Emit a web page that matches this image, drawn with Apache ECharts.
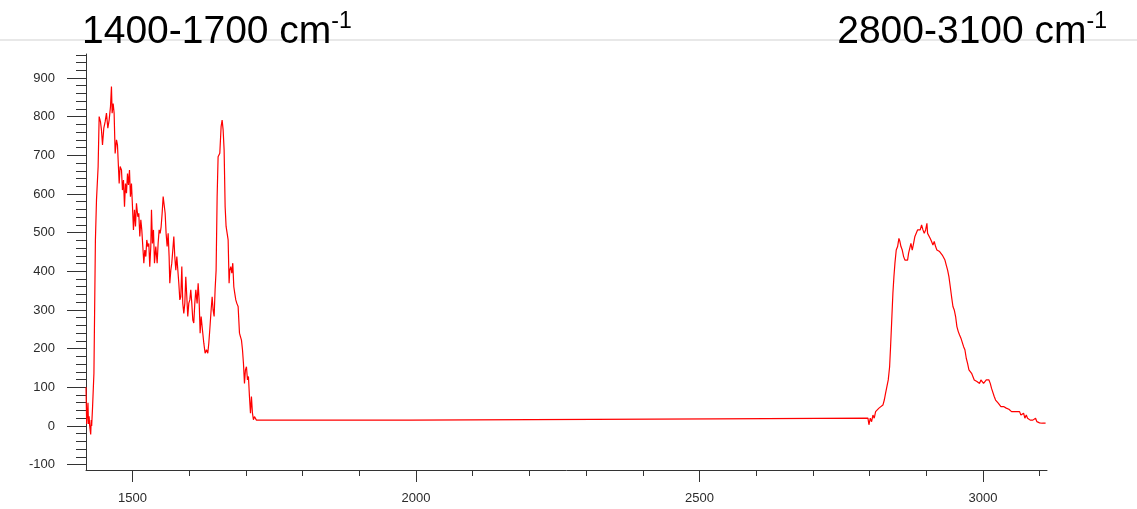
<!DOCTYPE html>
<html>
<head>
<meta charset="utf-8">
<script src="https://cdn.jsdelivr.net/npm/echarts@6.0.0/dist/echarts.min.js"></script>
<style>
html,body{margin:0;padding:0;background:#fff;}
#chart{width:1137px;height:509px;}
</style>
</head>
<body>
<div id="chart"></div>
<script>
// Wavenumbers (cm-1) and intensities
const wavenumbers = [
 1418.0,1419.2,1420.5,1421.5,1422.3,1423.5,1424.5,1426.3,1427.2,1428.0,1429.5,1431.5,1432.0,1434.0,1434.6,1436.5,1439.4,1441.2,1443.5,1445.3,1447.1,1449.4,1451.8,1454.1,1456.5,1458.8,1461.2,1462.9,1464.1,1465.9,1467.6,1469.4,1471.8,1473.5,1475.3,1476.5,1478.2,1480.6,1482.3,1484.1,1485.9,1487.6,1489.4,1491.2,1492.9,1494.7,1496.4,1498.2,1500.0,1501.7,1503.5,1505.3,1507.0,1509.4,1511.1,1512.9,1514.7,1516.4,1518.2,1520.0,1521.7,1523.5,1525.2,1527.0,1528.8,1530.5,1532.3,1533.5,1535.2,1537.0,1538.8,1541.1,1543.5,1545.2,1547.0,1548.8,1550.5,1552.3,1554.1,1555.8,1557.6,1559.3,1561.1,1562.9,1564.6,1565.8,1567.6,1569.3,1571.1,1572.9,1574.6,1576.4,1578.2,1579.9,1581.7,1583.5,1585.2,1587.0,1588.7,1590.5,1592.3,1594.0,1595.8,1597.5,1599.3,1601.1,1602.8,1604.6,1606.4,1608.1,1609.9,1611.7,1614.0,1615.8,1617.5,1619.3,1621.1,1623.4,1625.8,1628.1,1630.5,1632.8,1634.6,1636.3,1638.7,1640.5,1642.2,1644.0,1645.7,1647.5,1649.3,1651.0,1654.0,1656.3,1658.1,1659.9,1661.6,1663.4,1665.1,1666.9,1668.7,1670.4,1671.6,1673.4,1675.2,1676.9,1678.7,1680.4,1682.2,1684.0,1686.3,1688.7,1690.4,1692.2,1694.0,1695.7,1697.5,1699.2,1701.0,1702.8,1704.5,1706.3,1708.1,1709.8,1711.6,1713.3,1715.1,1718.6,
 1989.0,1989.5,2528.0,2528.5,
 2797.2,2798.9,2801.3,2803.6,2806.0,2808.3,2810.7,2813.0,2816.6,2820.1,2823.6,2826.0,2828.3,2830.7,2833.0,2835.4,2837.1,2838.9,2841.2,2843.0,2844.8,2847.1,2849.5,2851.8,2853.6,2855.4,2857.7,2860.1,2862.4,2864.8,2867.1,2868.9,2871.2,2873.0,2875.3,2877.7,2880.0,2882.4,2884.7,2887.1,2889.4,2891.8,2894.2,2896.5,2898.9,2901.2,2902.4,2904.7,2907.1,2909.4,2911.8,2914.1,2916.5,2918.8,2921.2,2923.6,2925.9,2928.3,2930.6,2933.0,2935.3,2937.7,2940.0,2942.4,2944.7,2947.1,2949.4,2951.8,2954.1,2956.5,2958.8,2961.2,2963.5,2965.9,2968.2,2970.6,2972.9,2975.3,2977.6,2980.0,2982.3,2984.7,2987.0,2989.4,2991.7,2994.1,2996.4,2998.8,3001.1,3003.5,3005.9,3008.2,3010.6,3012.9,3015.2,3017.6,3019.9,3022.3,3024.6,3027.0,3029.3,3031.7,3034.0,3036.4,3038.7,3041.1,3043.5,3045.8,3048.2,3050.5,3052.9,3055.2,3057.6,3059.9,3062.3,3064.6,3067.0,3069.3,3071.7,3074.0,3076.4,3078.7,3081.1,3083.4,3085.8,3088.1,3090.5,3092.8,3095.2,3097.6,3099.9,3102.3,3104.6,3107.0,3110.5
];
const intensities = [
 100,5,10,60,5,25,0,-22,15,0,46,50,137,140,481,584,671,800,787,765,727,770,787,809,770,791,826,878,809,834,809,705,740,727,731,627,671,662,610,636,567,627,602,653,623,662,593,627,567,507,559,516,576,541,550,490,533,507,464,421,455,438,481,464,472,412,464,559,472,507,421,464,421,472,507,498,515,550,593,593,550,498,464,498,438,369,403,421,455,490,438,403,438,438,369,326,334,412,317,291,317,386,334,283,317,326,352,317,274,266,317,352,317,369,326,240,283,248,214,188,197,188,214,248,300,334,300,283,352,403,593,696,705,774,791,765,714,567,516,516,481,369,403,412,395,421,360,343,326,317,309,240,231,222,197,162,110,145,153,119,128,76,33,76,33,16,24,15,
 15,18,18,20,
 20,3,20,11,28,20,37,37,46,50,54,67,85,102,119,153,205,265,343,386,421,455,464,485,477,464,455,438,429,434,429,447,451,472,455,472,490,494,507,511,507,520,507,498,507,524,498,494,485,477,468,477,464,455,459,451,447,442,447,429,416,403,386,360,334,309,300,283,257,244,235,227,222,205,197,175,162,145,145,136,132,119,123,115,119,110,119,115,110,115,119,123,119,110,97,93,76,67,63,59,54,50,54,50,46,46,41,43,41,37,41,37,33,37,33,37,28,24,33,20,28,20,24,15,20,15,11,20,11,15,8,11,7,8,7
];
const xMajorTicks = [1500, 2000, 2500, 3000];
const xMinorTicks = [1500,1600,1700,1800,1900,2000,2100,2200,2300,2400,2500,2600,2700,2800,2900,3000,3100];
const yMajorTicks = [-100,0,100,200,300,400,500,600,700,800,900];
const yMinorTicks = [];
for (let v = -100; v <= 960; v += 20) yMinorTicks.push(v);
const titleLeft = '1400-1700 cm';
const titleRight = '2800-3100 cm';
const titleSup = '-1';

const chart = echarts.init(document.getElementById('chart'), null, {renderer: 'canvas'});
const xMin = 1418, xMax = 3113, yMin = -114, yMax = 962;
const axisColor = '#333';
const labelFont = {fontFamily: 'Liberation Sans', fontSize: 13, color: '#2b2b2b'};
const rich = {
  a: {fontFamily: 'Liberation Sans', fontSize: 39, fontWeight: 'normal', color: '#000', lineHeight: 44},
  s: {fontFamily: 'Liberation Sans', fontSize: 23, fontWeight: 'normal', color: '#000', lineHeight: 24, verticalAlign: 'top'}
};
chart.setOption({
  animation: false,
  backgroundColor: '#fff',
  title: [
    {text: '{a|' + titleLeft + '}{s|' + titleSup + '}', left: 82, top: 10, padding: 0, textStyle: {fontWeight: 'normal', rich}},
    {text: '{a|' + titleRight + '}{s|' + titleSup + '}', right: 30, top: 10, padding: 0, textStyle: {fontWeight: 'normal', rich}}
  ],
  graphic: [
    {type: 'line', z: -10, shape: {x1: 0, y1: 40, x2: 1137, y2: 40}, style: {stroke: '#e8e8e8', lineWidth: 2}}
  ],
  grid: {left: 86, right: 90, top: 54, bottom: 39, containLabel: false},
  xAxis: [
    {type: 'value', min: xMin, max: xMax, position: 'bottom',
     axisLine: {show: true, onZero: false, lineStyle: {color: axisColor, width: 1}},
     axisTick: {show: true, customValues: xMajorTicks, length: 12, lineStyle: {color: axisColor}},
     axisLabel: {show: true, customValues: xMajorTicks, margin: 22, formatter: v => String(v), ...labelFont},
     splitLine: {show: false}},
    {type: 'value', min: xMin, max: xMax, position: 'bottom',
     axisLine: {show: false, onZero: false},
     axisTick: {show: true, customValues: xMinorTicks, length: 6, lineStyle: {color: axisColor}},
     axisLabel: {show: false},
     splitLine: {show: false}}
  ],
  yAxis: [
    {type: 'value', min: yMin, max: yMax, position: 'left',
     axisLine: {show: true, onZero: false, lineStyle: {color: axisColor, width: 1}},
     axisTick: {show: true, customValues: yMajorTicks, length: 19, lineStyle: {color: axisColor}},
     axisLabel: {show: true, customValues: yMajorTicks, margin: 31, formatter: v => String(v), ...labelFont},
     splitLine: {show: false}},
    {type: 'value', min: yMin, max: yMax, position: 'left',
     axisLine: {show: false, onZero: false},
     axisTick: {show: true, customValues: yMinorTicks, length: 10, lineStyle: {color: axisColor}},
     axisLabel: {show: false},
     splitLine: {show: false}}
  ],
  series: [{
    type: 'line',
    xAxisIndex: 0, yAxisIndex: 0,
    showSymbol: false,
    lineStyle: {color: '#ff0000', width: 1.2},
    data: wavenumbers.map((w, i) => [w, intensities[i]])
  }]
});
</script>
</body>
</html>
